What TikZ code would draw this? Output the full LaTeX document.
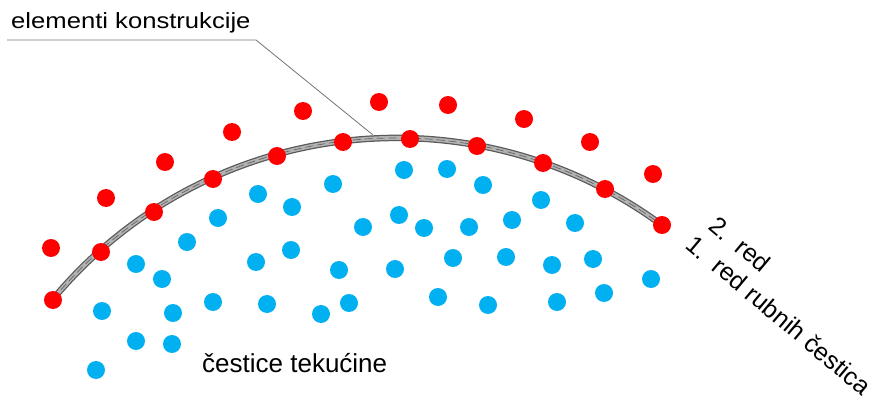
\documentclass[tikz,border=0pt]{standalone}
\usepackage{fontspec}
\setmainfont{Liberation Sans}
\usetikzlibrary{positioning}
\definecolor{rubna}{RGB}{255,0,0}
\definecolor{tekuca}{RGB}{0,176,240}
\begin{document}
\begin{tikzpicture}[x=1pt,y=-1pt,
  rub/.style={circle,fill=rubna,inner sep=0pt,minimum size=18pt},
  tek/.style={circle,fill=tekuca,inner sep=0pt,minimum size=18pt},
  lbl/.style={inner sep=0pt,anchor=base west},
  wall/.style={domain=140.25:53.6,samples=90,smooth}]
  \useasboundingbox (0,0) rectangle (873,401);
  % stijenka (element konstrukcije)
  \draw[wall,line width=6.5pt,black!65] plot ({396.7+447*cos(\x)},{584.9-447*sin(\x)});
  \draw[wall,line width=4pt,black!30] plot ({396.7+447*cos(\x)},{584.9-447*sin(\x)});
  \draw[wall,line width=0.7pt,black!60,dash pattern=on 8pt off 4pt] plot ({396.7+447*cos(\x)},{584.9-447*sin(\x)});
  % oznaka
  \coordinate (k0) at (7,40);
  \coordinate (k1) at (256,40);
  \coordinate (k2) at (373,135);
  \draw[black!55,line width=0.8pt] (k0) -- (k1) -- (k2);
  \node[lbl,xscale=1.165,font=\fontsize{22}{26}\selectfont] (konstr) at (11,29) {elementi konstrukcije};
  % 1. red rubnih cestica
  \foreach \px/\py [count=\i] in {53/300,101/252,154/212,213/179,277/156,343/142,410/139,477/146,543/163,605/189,662/225}
    \node[rub] (r\i) at (\px,\py) {};
  % 2. red
  \foreach \px/\py [count=\i] in {51/248,106/198,165/162,232/132,303/111,379/102,448/105,524/119,590/142,653/174}
    \node[rub] (q\i) at (\px,\py) {};
  % cestice tekucine
  \foreach \px/\py [count=\i] in {404/170,447/169,483/185,541/200,258/194,292/207,333/184,218/218,187/242,363/227,
      399/215,424/228,469/227,512/220,575/223,136/264,162/279,256/262,291/250,339/270,395/269,453/258,506/257,
      552/265,593/259,651/279,102/311,173/313,213/302,267/304,321/314,349/303,438/297,488/305,557/302,604/293,
      136/341,172/344,96/370}
    \node[tek] (b\i) at (\px,\py) {};
  \node[lbl,font=\fontsize{26}{30}\selectfont] (tekucina) at (202,372) {čestice tekućine};
  \node[lbl,rotate=-40,font=\fontsize{25}{29}\selectfont] (red1) at (684,247) {1.\ \ red rubnih čestica};
  \node[lbl,rotate=-40,font=\fontsize{25}{29}\selectfont] (red2) at (707,228) {2.\ \ red};
\end{tikzpicture}
\end{document}
